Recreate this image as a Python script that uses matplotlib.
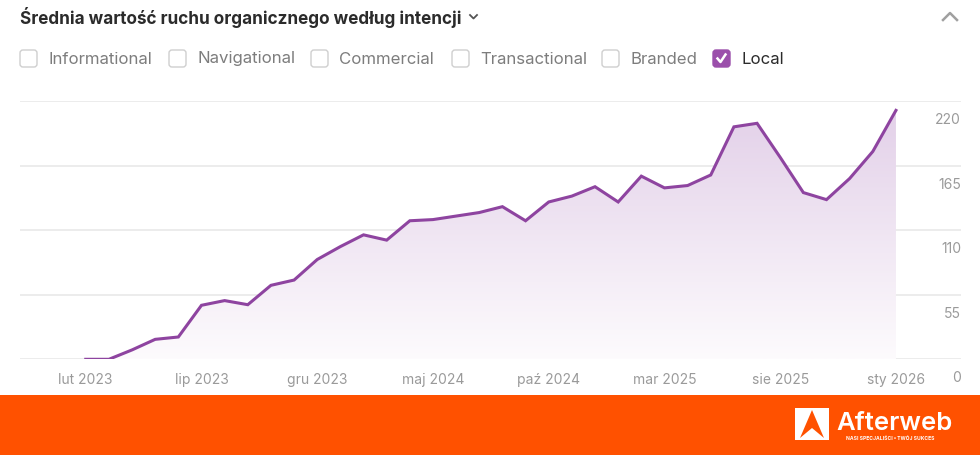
import matplotlib
matplotlib.use('Agg')
import matplotlib.pyplot as plt
import matplotlib.transforms as mtransforms
from matplotlib.colors import LinearSegmentedColormap
from matplotlib.patches import Rectangle, FancyBboxPatch, Polygon
import numpy as np

plt.rcParams['font.family'] = ['Inter', 'DejaVu Sans']

# dane
values = [0, 0, 8, 17, 19, 46, 50, 46.5, 63, 67.5, 85, 96, 106, 101.5, 118, 119,
          122, 125, 130, 118, 134, 139, 147, 134, 156, 146, 148, 157, 198, 201,
          172, 142, 136, 154, 177, 212]
month_labels = ['lut 2023', 'lip 2023', 'gru 2023', 'maj 2024',
                'paź 2024', 'mar 2025', 'sie 2025', 'sty 2026']
month_label_pos = [0, 5, 10, 15, 20, 25, 30, 35]
yticks = [0, 55, 110, 165, 220]
intents = ['Informational', 'Navigational', 'Commercial', 'Transactional', 'Branded', 'Local']
checked = [False, False, False, False, False, True]

purple = '#8e44a0'
grey_txt = '#9a9a9a'

fig = plt.figure(figsize=(9.8, 4.55), dpi=100)

# tło / nagłówek w pikselach
bg = fig.add_axes([0, 0, 1, 1])
bg.set_xlim(0, 980)
bg.set_ylim(455, 0)
bg.axis('off')

bg.text(20, 17, 'Średnia wartość ruchu organicznego według intencji', fontsize=12.35,
        fontweight='bold', color='#2b2b2b', va='center', ha='left')
bg.plot([470, 473.5, 477], [15, 18.5, 15], color='#555555', lw=1.3)
bg.plot([943, 950, 957], [20, 13, 20], color='#a0a0a0', lw=1.8)

box_x = [20, 169, 311, 452, 602, 713]
for bx, name, on in zip(box_x, intents, checked):
    if on:
        bg.add_patch(FancyBboxPatch((bx, 50), 17, 17, boxstyle='round,pad=0,rounding_size=3',
                                    facecolor='#9b4fab', edgecolor='#9b4fab', lw=1))
        bg.plot([bx + 4.5, bx + 7.5, bx + 12.5], [58.5, 62, 54.5], color='white', lw=1.8)
        col = '#2b2b2b'
    else:
        bg.add_patch(FancyBboxPatch((bx, 50), 17, 17, boxstyle='round,pad=0,rounding_size=3',
                                    facecolor='white', edgecolor='#cfcfcf', lw=1))
        col = '#7d7d7d'
    bg.text(bx + 28, 59, name, fontsize=12.1, color=col, va='center', ha='left')

# stopka
bg.add_patch(Rectangle((0, 395), 980, 60, facecolor='#ff5100', edgecolor='none'))
bg.add_patch(Rectangle((795, 408), 34, 32, facecolor='white', edgecolor='none'))
bg.add_patch(Polygon([(800, 438), (812, 410), (824, 438), (812, 428)], closed=True,
                     facecolor='#ff5100', edgecolor='none'))
bg.text(836, 423, 'Afterweb', fontsize=18.5, color='white', va='center', ha='left',
        fontweight='semibold')
bg.text(846, 439, 'NASI SPECJALIŚCI • TWÓJ SUKCES', fontsize=3.6, color='white',
        va='center', ha='left', fontweight='bold')

# wykres
x = np.arange(len(values))
ax = fig.add_axes([20 / 980, (455 - 359.3) / 455, 941 / 980, 258.3 / 455])
ax.set_xlim(-2.84, 37.81)
ax.set_ylim(0, 220)
for s in ax.spines.values():
    s.set_visible(False)
ax.set_yticks(yticks)
ax.set_yticklabels([])
ax.tick_params(axis='y', length=0)
ax.grid(axis='y', color='#ececec', lw=1.4)
ax.set_axisbelow(True)
ax.set_xticks(month_label_pos)
ax.set_xticklabels(month_labels, fontsize=10, color=grey_txt)
ax.tick_params(axis='x', length=0, pad=10)

off = mtransforms.offset_copy(ax.get_yaxis_transform(), fig=fig, x=0, y=-19, units='dots')
for v in yticks:
    ax.text(1, v, str(v), transform=off, ha='right', va='center', fontsize=10, color=grey_txt)

# wypełnienie gradientem
cmap = LinearSegmentedColormap.from_list('g', ['#fdfbfd', '#e2cfe8'])
grad = np.linspace(0, 1, 256).reshape(-1, 1)
poly = ax.fill_between(x, 0, values, color='none', lw=0)
img = ax.imshow(grad, extent=[x[0], x[-1], 0, 220], origin='lower', cmap=cmap,
                aspect='auto', zorder=1)
img.set_clip_path(poly.get_paths()[0], transform=ax.transData)
ax.plot(x, values, color=purple, lw=2.2, zorder=3, solid_joinstyle='miter')
ax.set_xlim(-2.84, 37.81)
ax.set_ylim(0, 220)

fig.savefig('out.png', dpi=100)
